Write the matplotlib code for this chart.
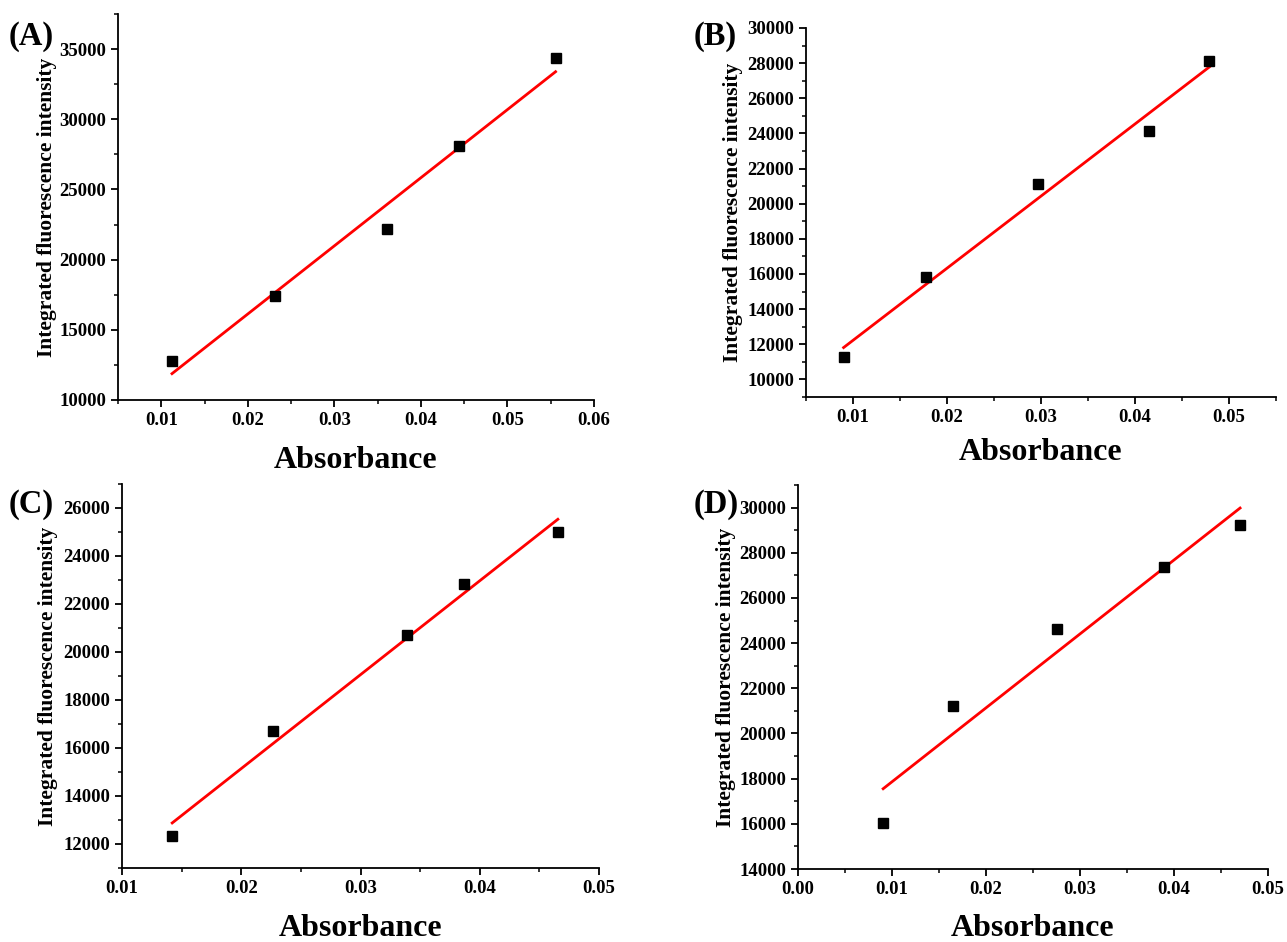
import numpy as np
import matplotlib
matplotlib.use("Agg")
import matplotlib.pyplot as plt
from matplotlib.ticker import MultipleLocator, AutoMinorLocator

plt.rcParams['font.family'] = ['Liberation Serif', 'DejaVu Serif']
plt.rcParams['font.weight'] = 'bold'

W, H = 1287, 942

# panel data
abs_a = [0.01124, 0.02315, 0.03605, 0.04437, 0.05556]
int_a = [12800, 17410, 22160, 28090, 34340]
abs_b = [0.0090, 0.0178, 0.0297, 0.0415, 0.0479]
int_b = [11280, 15850, 21100, 24150, 28100]
abs_c = [0.01421, 0.02267, 0.03388, 0.03871, 0.04655]
int_c = [12340, 16720, 20700, 22850, 25020]
abs_d = [0.00906, 0.01654, 0.02752, 0.03893, 0.04703]
int_d = [16050, 21210, 24620, 27360, 29220]

panels = [
    # label, x, y, xlim, ylim, xstep, ystep, (left, top, right, bottom) px
    ("(A)", abs_a, int_a, (0.005, 0.06), (10000, 37500), 0.01, 5000, (118, 14, 594, 400)),
    ("(B)", abs_b, int_b, (0.005, 0.055), (9000, 30000), 0.01, 2000, (806, 28, 1276, 397)),
    ("(C)", abs_c, int_c, (0.01, 0.05), (11000, 27000), 0.01, 2000, (122, 484, 599, 868)),
    ("(D)", abs_d, int_d, (0.0, 0.05), (14000, 31000), 0.01, 2000, (798, 485, 1268, 869)),
]

label_pos = {  # panel letter (x, y) px, ylabel x px, xlabel y px
    "(A)": ((9, 36), 47, 460),
    "(B)": ((694, 36), 733, 452),
    "(C)": ((9, 505), 48, 928),
    "(D)": ((694, 505), 726, 928),
}

fig = plt.figure(figsize=(W / 100, H / 100), dpi=100)

for name, x, y, xlim, ylim, xstep, ystep, box in panels:
    l, t, r, b = box
    ax = fig.add_axes([l / W, 1 - b / H, (r - l) / W, (b - t) / H])
    x = np.array(x)
    y = np.array(y)
    ax.plot(x, y, 's', color='black', ms=6.5, zorder=3)
    k, c = np.polyfit(x, y, 1)
    xs = np.array([x.min(), x.max()])
    ax.plot(xs, k * xs + c, color='red', lw=2.0, zorder=2)
    ax.set_xlim(*xlim)
    ax.set_ylim(*ylim)
    ax.xaxis.set_major_locator(MultipleLocator(xstep))
    ax.yaxis.set_major_locator(MultipleLocator(ystep))
    ax.xaxis.set_minor_locator(AutoMinorLocator(2))
    ax.yaxis.set_minor_locator(AutoMinorLocator(2))
    ax.xaxis.set_major_formatter(lambda v, p: f"{v:.2f}")
    ax.spines['top'].set_visible(False)
    ax.spines['right'].set_visible(False)
    for s in ('left', 'bottom'):
        ax.spines[s].set_linewidth(1.3)
    ax.tick_params(which='major', direction='out', length=5, width=1.3, labelsize=13.5)
    ax.tick_params(which='minor', direction='out', length=3, width=1.1)
    for lab in ax.get_xticklabels() + ax.get_yticklabels():
        lab.set_fontweight('bold')

    (px, py), ylx, xly = label_pos[name]
    ax.set_ylabel("Integrated fluorescence intensity", fontsize=15.5, fontweight='bold')
    ax.yaxis.set_label_coords((ylx - l) / (r - l), 0.5)
    ax.set_xlabel("Absorbance", fontsize=23, fontweight='bold')
    ax.xaxis.set_label_coords(0.5, -(xly - b) / (b - t))
    ax.xaxis.label.set_va('center')
    ax.yaxis.label.set_va('center')
    fig.text(px / W, 1 - py / H, name, fontsize=23.5, fontweight='bold', va='center', ha='left')

fig.savefig("out.png", dpi=100)
